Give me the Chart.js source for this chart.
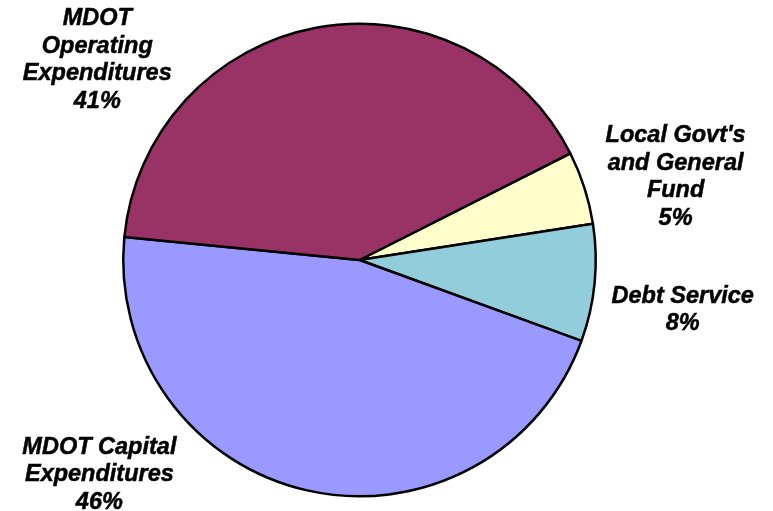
<!DOCTYPE html>
<html>
<head>
<meta charset="utf-8">
<script src="https://cdn.jsdelivr.net/npm/chart.js@4/dist/chart.umd.min.js"></script>
<style>
  html,body{margin:0;padding:0;background:#fff;}
  #wrap{width:773px;height:511px;position:relative;}
</style>
</head>
<body>
<div id="wrap"><canvas id="pie"></canvas></div>
<script>
// data, clockwise from the upper right
const categories = [
  ["Local Govt's", "and General", "Fund"],
  ["Debt Service"],
  ["MDOT Capital", "Expenditures"],
  ["MDOT", "Operating", "Expenditures"]
];
const shares = [5, 8, 46, 41];
const colors = ['#FFFFCC', '#92CDDC', '#9999FF', '#993366'];

// label block centres, relative to pie centre, in radius units
const labelOffset = [[1.338, -0.351], [1.368, 0.211], [-1.101, 0.909], [-1.110, -0.846]];
const LINE_H = 27.5;

const pieLabels = {
  id: 'pieLabels',
  afterDatasetsDraw(chart){
    const ctx = chart.ctx;
    const meta = chart.getDatasetMeta(0);
    ctx.save();
    ctx.font = 'italic bold 23.5px "Liberation Sans", Arial, sans-serif';
    ctx.fillStyle = '#000';
    ctx.strokeStyle = '#000';
    ctx.lineWidth = 0.5;
    ctx.textAlign = 'center';
    ctx.textBaseline = 'middle';
    meta.data.forEach((arc, i) => {
      const r = arc.outerRadius;
      const cx = arc.x + labelOffset[i][0] * r;
      const cy = arc.y + labelOffset[i][1] * r;
      const lines = categories[i].concat([shares[i] + '%']);
      const top = cy - (lines.length - 1) * LINE_H / 2;
      lines.forEach((t, j) => {
        ctx.fillText(t, cx, top + j * LINE_H);
        ctx.strokeText(t, cx, top + j * LINE_H);
      });
    });
    ctx.restore();
  }
};

new Chart(document.getElementById('pie'), {
  type: 'pie',
  data: {
    labels: categories.map(c => c.join(' ')),
    datasets: [{
      data: shares,
      backgroundColor: colors,
      borderColor: '#000',
      borderWidth: 2.5
    }]
  },
  options: {
    responsive: true,
    maintainAspectRatio: false,
    animation: false,
    rotation: 63.2,
    layout: {padding: {left: 122, right: 176, top: 22.5, bottom: 13.5}},
    plugins: {legend: {display: false}, tooltip: {enabled: false}}
  },
  plugins: [pieLabels]
});
</script>
</body>
</html>
